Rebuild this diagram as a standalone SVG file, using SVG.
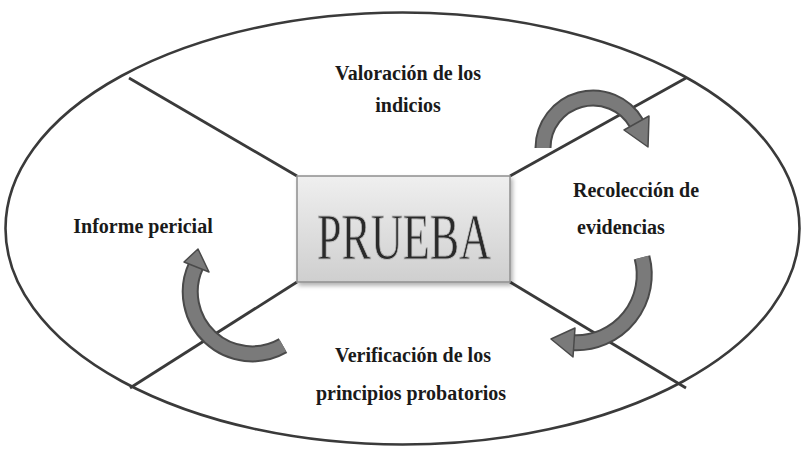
<svg xmlns="http://www.w3.org/2000/svg" width="803" height="452" viewBox="0 0 803 452">
<defs>
<linearGradient id="boxg" x1="0" y1="0" x2="0" y2="1">
<stop offset="0" stop-color="#efefef"/>
<stop offset="1" stop-color="#cfcfcf"/>
</linearGradient>
<filter id="sh" x="-10%" y="-10%" width="130%" height="130%">
<feDropShadow dx="2" dy="3" stdDeviation="2" flood-color="#000" flood-opacity="0.3"/>
</filter>
</defs>
<style>
.ring{fill:none;stroke:#3a3a3a;stroke-width:2.6}
.div{stroke:#3a3a3a;stroke-width:2.8;fill:none}
.lbl{font-family:"Liberation Serif","Times New Roman",serif;font-weight:bold;font-size:20px;fill:#1a1a1a;text-anchor:middle}
.arcO{fill:none;stroke:#4a4a4a;stroke-width:17}
.arcI{fill:none;stroke:#7a7a7a;stroke-width:13}
.head{fill:#7a7a7a;stroke:#4a4a4a;stroke-width:1.5;stroke-linejoin:round}
.title{font-family:"Liberation Serif","Times New Roman",serif;font-size:66px;fill:#2a2a2a;stroke:#bdbdbd;stroke-width:1;text-anchor:middle}
</style>
<rect width="803" height="452" fill="#ffffff"/>
<g id="outline">
<ellipse class="ring" cx="402.5" cy="228.5" rx="397" ry="216"/>
</g>
<g id="connectors">
<line class="div" x1="297" y1="176" x2="129" y2="78"/>
<line class="div" x1="510" y1="176" x2="686" y2="78"/>
<line class="div" x1="297" y1="282" x2="130" y2="388"/>
<line class="div" x1="510" y1="282" x2="686" y2="388"/>
</g>
<g id="arrow-top">
<path class="arcO" d="M543 148 A50 50 0 0 1 636.3 123"/>
<path class="arcI" d="M543 148 A50 50 0 0 1 636.3 123"/>
<polygon class="head" points="649,116 648,147 624,130"/>
</g>
<g id="arrow-right">
<path class="arcO" d="M642 257.4 A68 68 0 0 1 574 342.7"/>
<path class="arcI" d="M642 257.4 A68 68 0 0 1 574 342.7"/>
<polygon class="head" points="573,357 551,339 575,328"/>
</g>
<g id="arrow-left">
<path class="arcO" d="M283 345.7 A62 62 0 0 1 196 265.8"/>
<path class="arcI" d="M283 345.7 A62 62 0 0 1 196 265.8"/>
<polygon class="head" points="184,262 198,249 209,272"/>
</g>
<g id="prueba">
<rect x="297" y="176" width="213" height="106" fill="url(#boxg)" stroke="#8f8f8f" stroke-width="1.5" filter="url(#sh)"/>
<text class="title" x="404" y="259" textLength="174" lengthAdjust="spacingAndGlyphs">PRUEBA</text>
</g>
<g id="valoracion">
<text class="lbl" x="408" y="80">Valoración de los</text>
<text class="lbl" x="408" y="112">indicios</text>
</g>
<g id="recoleccion">
<text class="lbl" x="636" y="197">Recolección de</text>
<text class="lbl" x="621" y="234">evidencias</text>
</g>
<g id="informe">
<text class="lbl" x="143" y="233">Informe pericial</text>
</g>
<g id="verificacion">
<text class="lbl" x="413" y="362">Verificación de los</text>
<text class="lbl" x="411" y="400">principios probatorios</text>
</g>
</svg>
